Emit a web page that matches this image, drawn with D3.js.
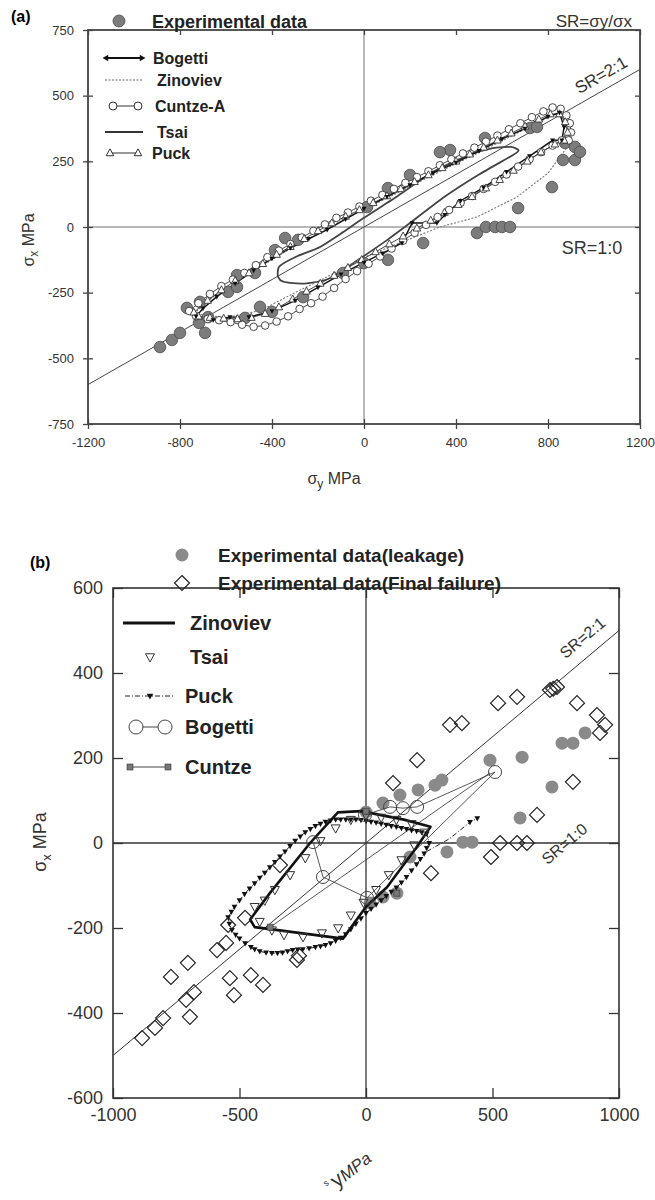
<!DOCTYPE html>
<html><head><meta charset="utf-8">
<script src="https://cdn.jsdelivr.net/npm/d3@7"></script>
<style>body{margin:0;background:#fff} svg{display:block} text{font-family:"Liberation Sans",Arial,sans-serif}</style>
</head><body><svg id="c" width="655" height="1200"></svg>
<script>
// ---------- DATA: panel (a)  [sigma_y, sigma_x] ----------
const xTicksA = [-1200,-800,-400,0,400,800,1200];
const yTicksA = [-750,-500,-250,0,250,500,750];
const expA = [[-887,-457],[-835,-430],[-800,-403],[-770,-308],[-713,-285],[-717,-365],[-691,-403],[-678,-343],[-591,-247],[-552,-228],[-552,-183],[-474,-175],[-517,-346],[-452,-304],[-400,-323],[-387,-88],[-343,-42],[-287,-49],[-265,-267],[-91,-175],[0,-137],[104,-125],[257,-61],[491,-23],[530,0],[570,0],[600,0],[635,0],[670,72],[817,152],[865,255],[917,255],[874,320],[917,305],[939,286],[722,377],[752,381],[526,339],[374,293],[330,285],[200,198],[104,148],[13,76]];
const cuntzeA = [[-760,-320],[-720,-290],[-670,-255],[-620,-225],[-570,-200],[-520,-175],[-470,-145],[-420,-115],[-370,-90],[-320,-65],[-270,-40],[-220,-15],[-170,10],[-120,35],[-70,55],[-20,78],[30,100],[80,122],[130,145],[180,168],[230,190],[280,212],[330,235],[380,258],[430,280],[480,302],[530,325],[580,348],[630,372],[680,395],[730,418],[780,440],[820,455],[855,450],[880,425],[895,395],[900,360],[890,330],[860,330],[820,310],[770,285],[720,258],[670,230],[620,200],[570,172],[520,145],[470,118],[420,92],[370,65],[320,38],[270,8],[220,-22],[170,-52],[120,-82],[70,-112],[20,-140],[-30,-168],[-80,-198],[-130,-232],[-180,-265],[-230,-290],[-280,-312],[-330,-340],[-380,-360],[-430,-375],[-480,-380],[-530,-372],[-580,-362],[-630,-355],[-680,-350],[-730,-340]];
const puckA = [[-740,-325],[-680,-280],[-620,-240],[-560,-205],[-500,-175],[-440,-140],[-380,-105],[-320,-75],[-260,-45],[-200,-15],[-140,15],[-80,40],[-20,65],[40,92],[100,118],[160,145],[220,172],[280,198],[340,225],[400,250],[460,277],[520,303],[580,330],[640,357],[700,383],[760,410],[810,430],[850,430],[875,400],[885,360],[870,330],[830,315],[770,285],[710,250],[650,215],[590,180],[530,148],[470,115],[410,85],[350,55],[290,25],[230,-5],[170,-35],[110,-65],[50,-95],[-10,-125],[-70,-155],[-130,-185],[-190,-215],[-250,-245],[-310,-275],[-370,-305],[-430,-330],[-490,-345],[-550,-350],[-610,-348],[-670,-345],[-720,-340]];
const bogettiA = [[-730,-340],[-700,-310],[-640,-265],[-560,-215],[-480,-165],[-400,-120],[-320,-80],[-240,-45],[-160,-10],[-80,30],[0,70],[100,115],[200,160],[300,205],[400,245],[500,290],[600,335],[700,375],[800,420],[850,435],[870,380],[860,330],[820,330],[720,270],[620,210],[520,150],[420,100],[352,46],[317,15],[209,15],[165,-61],[80,-100],[0,-135],[-100,-180],[-200,-230],[-300,-280],[-400,-320],[-500,-343],[-583,-343],[-656,-354]];
const zinovievA = [[-740,-330],[-650,-262],[-550,-208],[-450,-152],[-350,-98],[-250,-48],[-150,0],[-50,45],[50,88],[150,132],[250,176],[350,220],[450,262],[550,306],[650,350],[750,395],[820,425],[865,418],[890,370],[880,300],[800,205],[665,114],[491,38],[330,0],[135,-68],[0,-115],[-150,-185],[-300,-250],[-450,-318],[-600,-345]];
const tsaiA = [[-375,-185],[-368,-150],[-300,-115],[-191,-76],[-100,-25],[0,35],[150,120],[300,210],[450,272],[560,300],[640,305],[672,292],[650,275],[500,200],[350,115],[200,15],[100,-50],[0,-110],[-148,-195],[-250,-215],[-322,-213],[-360,-205]];
const srLineA = [[-1200,-600],[1200,600]];

// ---------- DATA: panel (b) ----------
const xTicksB = [-1000,-500,0,500,1000];
const yTicksB = [-600,-400,-200,0,200,400,600];
const leakB = [[490,195],[617,202],[775,235],[818,235],[866,259],[735,132],[609,59],[300,148],[273,136],[206,125],[134,113],[67,94],[0,73],[383,2],[419,2],[320,-21],[174,-33],[122,-118],[67,-127],[16,-141]];
const failB = [[107,141],[202,195],[332,278],[379,282],[522,329],[597,344],[727,360],[740,363],[755,367],[834,329],[913,301],[945,278],[925,259],[818,144],[676,66],[530,0],[597,0],[636,0],[494,-33],[257,-71],[-340,-52],[-885,-459],[-834,-435],[-802,-412],[-771,-315],[-704,-282],[-711,-369],[-696,-409],[-680,-351],[-589,-252],[-553,-235],[-545,-193],[-478,-176],[-538,-318],[-522,-358],[-455,-311],[-407,-334],[-273,-275],[-265,-265]];
const zinovievB = [[-111,72],[-20,75],[150,55],[255,38],[200,-10],[83,-104],[0,-150],[-91,-225],[-440,-198],[-458,-180],[-380,-118],[-221,0]];
const tsaiB = [[-440,-150],[-420,-185],[-372,-205],[-324,-216],[-249,-221],[-174,-212],[-110,-200],[-60,-170],[-10,-140],[40,-110],[90,-75],[140,-40],[190,-5],[230,25],[180,45],[120,55],[60,60],[0,65],[-60,55],[-120,35],[-180,5],[-240,-35],[-300,-75],[-360,-110],[-400,-135]];
const puckB = [[-545,-175],[-532,-162],[-520,-150],[-500,-135],[-480,-120],[-460,-107],[-440,-95],[-420,-82],[-400,-70],[-380,-57],[-360,-45],[-340,-32],[-320,-20],[-300,-7],[-280,5],[-260,15],[-240,25],[-220,33],[-200,40],[-180,45],[-160,50],[-140,53],[-120,55],[-100,55],[-80,55],[-60,55],[-40,55],[-20,54],[0,52],[20,50],[40,48],[60,45],[80,43],[100,40],[120,38],[140,35],[160,33],[180,30],[200,28],[220,25],[240,22],[250,0],[240,-12],[230,-25],[215,-38],[200,-50],[180,-65],[160,-80],[140,-93],[120,-105],[100,-115],[80,-125],[60,-135],[40,-145],[20,-155],[0,-165],[-20,-178],[-40,-190],[-60,-203],[-80,-215],[-100,-223],[-120,-230],[-140,-236],[-160,-240],[-180,-243],[-200,-245],[-225,-248],[-250,-250],[-270,-251],[-290,-252],[-310,-255],[-330,-258],[-350,-259],[-372,-259],[-395,-258],[-420,-255],[-440,-250],[-455,-245],[-478,-236],[-500,-225],[-515,-216],[-530,-205],[-540,-190]];
const puckSpurB = [[240,-20],[330,10],[411,49],[440,58]];
const bogettiB = [[-209,2],[-170,-80],[4,-129],[510,167],[202,85],[146,82],[95,85],[-4,66]];
const cuntzeB = [[-379,-198],[490,165]];
const cuntzeMarkB = [[0,75],[122,-118],[-379,-198]];
const srLineB = [[-1000,-500],[1000,500]];

// ---------- DRAW ----------
const svg = d3.select('#c');
const xa = d3.scaleLinear().domain([-1200,1200]).range([88,640]);
const ya = d3.scaleLinear().domain([-750,750]).range([424,30]);
const xb = d3.scaleLinear().domain([-1000,1000]).range([113,619]);
const yb = d3.scaleLinear().domain([-600,600]).range([1098,588]);

function triPath(s, down){ const k = down?-1:1; return `M0,${-s*k}L${s*0.9},${s*0.65*k}L${-s*0.9},${s*0.65*k}Z`; }
function diaPath(s){ return `M0,${-s}L${s},0L0,${s}L${-s},0Z`; }

function axes(x, y, xt, yt, fs, inner, crossBottomLeft, col, sw, pad){
  const g = svg.append('g');
  const [x0,x1] = x.range(), [y1,y0] = [y.range()[0], y.range()[1]];
  const fmt = d => String(d);
  const b = g.append('g').attr('transform',`translate(0,${y1})`).call(d3.axisBottom(x).tickValues(xt).tickSize(crossBottomLeft?5:-inner).tickPadding(pad).tickFormat(fmt));
  const t = g.append('g').attr('transform',`translate(0,${y0})`).call(d3.axisTop(x).tickValues(xt).tickSize(-inner).tickFormat(''));
  const l = g.append('g').attr('transform',`translate(${x0},0)`).call(d3.axisLeft(y).tickValues(yt).tickSize(crossBottomLeft?5:-inner).tickPadding(pad).tickFormat(fmt));
  const r = g.append('g').attr('transform',`translate(${x1},0)`).call(d3.axisRight(y).tickValues(yt).tickSize(-inner).tickFormat(''));
  if(crossBottomLeft){ b.selectAll('.tick line').attr('y1',-5); l.selectAll('.tick line').attr('x1',5); }
  [b,t,l,r].forEach(a=>{ a.select('.domain').remove(); a.selectAll('.tick line').attr('stroke',col).attr('stroke-width',1.3);
     a.selectAll('text').attr('font-size',fs).attr('fill','#333').attr('font-family','"Liberation Sans",Arial,sans-serif'); });
  g.append('rect').attr('x',x0).attr('y',y0).attr('width',x1-x0).attr('height',y1-y0).attr('fill','none').attr('stroke',col).attr('stroke-width',sw);
  return g;
}

// ===== Panel (a) =====
const gA = svg.append('g');
const la = d3.line().x(d=>xa(d[0])).y(d=>ya(d[1]));
gA.append('line').attr('x1',xa(0)).attr('x2',xa(0)).attr('y1',ya(-750)).attr('y2',ya(750)).attr('stroke','#a0a0a0').attr('stroke-width',1.5);
gA.append('line').attr('x1',xa(-1200)).attr('x2',xa(1200)).attr('y1',ya(0)).attr('y2',ya(0)).attr('stroke','#a0a0a0').attr('stroke-width',1.5);
gA.append('path').attr('d',la(srLineA)).attr('stroke','#444').attr('stroke-width',1).attr('fill','none');
axes(xa, ya, xTicksA, yTicksA, 13, 5, true, '#444', 1.8, 9);

gA.append('path').attr('d',la.curve(d3.curveCardinalClosed.tension(0.4))(tsaiA)).attr('fill','none').attr('stroke','#444').attr('stroke-width',1.8);
la.curve(d3.curveLinearClosed);
gA.append('path').attr('d',la(zinovievA)).attr('fill','none').attr('stroke','#777').attr('stroke-width',1.1).attr('stroke-dasharray','2,1.6');
gA.append('path').attr('d',la(puckA)).attr('fill','none').attr('stroke','#333').attr('stroke-width',0.9);
gA.append('path').attr('d',la(bogettiA)).attr('fill','none').attr('stroke','#111').attr('stroke-width',1.4);
gA.append('path').attr('d',la(cuntzeA)).attr('fill','none').attr('stroke','#333').attr('stroke-width',0.9);
gA.selectAll('.ea').data(expA).join('circle').attr('cx',d=>xa(d[0])).attr('cy',d=>ya(d[1])).attr('r',5.8).attr('fill','#7c7c7c').attr('stroke','#4a4a4a').attr('stroke-width',0.8);
gA.selectAll('.ca').data(cuntzeA).join('circle').attr('cx',d=>xa(d[0])).attr('cy',d=>ya(d[1])).attr('r',3.8).attr('fill','#fff').attr('stroke','#333').attr('stroke-width',0.9);
gA.selectAll('.pa').data(puckA).join('path').attr('transform',d=>`translate(${xa(d[0])},${ya(d[1])})`).attr('d',triPath(4.2,false)).attr('fill','#fff').attr('stroke','#333').attr('stroke-width',0.9);
gA.selectAll('.ba').data(bogettiA).join('path').attr('transform',d=>`translate(${xa(d[0])},${ya(d[1])})`).attr('d',triPath(2.8,true)).attr('fill','#111');

// texts (a)
svg.append('text').attr('x',11).attr('y',22).attr('font-family','"Liberation Serif","Times New Roman",serif').attr('font-weight','bold').attr('font-size',16).text('(a)');
svg.append('circle').attr('cx',119).attr('cy',21).attr('r',6).attr('fill','#7c7c7c').attr('stroke','#4a4a4a').attr('stroke-width',0.8);
svg.append('text').attr('x',152).attr('y',28).attr('font-weight','bold').attr('font-size',18).attr('fill','#222').text('Experimental data');
svg.append('text').attr('x',632).attr('y',27).attr('text-anchor','end').attr('font-size',17).attr('fill','#333').text('SR=σy/σx');
svg.append('text').attr('transform',`translate(604,80) rotate(-30)`).attr('text-anchor','middle').attr('font-size',17).attr('fill','#333').text('SR=2:1');
svg.append('text').attr('x',592).attr('y',254).attr('text-anchor','middle').attr('font-size',18).attr('fill','#333').text('SR=1:0');
const yla = svg.append('text').attr('transform','translate(34,240) rotate(-90)').attr('text-anchor','middle').attr('font-size',16).attr('fill','#333');
yla.append('tspan').text('σ'); yla.append('tspan').attr('font-size',12).attr('dy',4).text('x'); yla.append('tspan').attr('dy',-4).text(' MPa');
const xla = svg.append('text').attr('x',334).attr('y',484).attr('text-anchor','middle').attr('font-size',16).attr('fill','#333');
xla.append('tspan').text('σ'); xla.append('tspan').attr('font-size',12).attr('dy',4).text('y'); xla.append('tspan').attr('dy',-4).text(' MPa');

// legend (a)
const legA = svg.append('g');
const lyA = [58,80,106,132,153];
const namesA = ['Bogetti','Zinoviev','Cuntze-A','Tsai','Puck'];
const txA = [153,157,155,157,152];
legA.append('line').attr('x1',106).attr('x2',141).attr('y1',lyA[0]).attr('y2',lyA[0]).attr('stroke','#111').attr('stroke-width',2.2);
legA.append('path').attr('transform',`translate(106,${lyA[0]}) rotate(90)`).attr('d',triPath(3.5,true)).attr('fill','#111');
legA.append('path').attr('transform',`translate(142,${lyA[0]}) rotate(-90)`).attr('d',triPath(3.5,true)).attr('fill','#111');
legA.append('line').attr('x1',105).attr('x2',143).attr('y1',lyA[1]).attr('y2',lyA[1]).attr('stroke','#666').attr('stroke-width',1.2).attr('stroke-dasharray','2,1.5');
legA.append('line').attr('x1',113).attr('x2',138).attr('y1',lyA[2]).attr('y2',lyA[2]).attr('stroke','#333').attr('stroke-width',1);
[113,138].forEach(x=>legA.append('circle').attr('cx',x).attr('cy',lyA[2]).attr('r',4).attr('fill','#fff').attr('stroke','#333'));
legA.append('line').attr('x1',105).attr('x2',143).attr('y1',lyA[3]).attr('y2',lyA[3]).attr('stroke','#333').attr('stroke-width',2);
legA.append('line').attr('x1',110).attr('x2',138).attr('y1',lyA[4]).attr('y2',lyA[4]).attr('stroke','#333').attr('stroke-width',1);
[110,138].forEach(x=>legA.append('path').attr('transform',`translate(${x},${lyA[4]})`).attr('d',triPath(4.2,false)).attr('fill','#fff').attr('stroke','#333'));
namesA.forEach((n,i)=>legA.append('text').attr('x',txA[i]).attr('y',lyA[i]+6).attr('font-weight','bold').attr('font-size',16).attr('fill','#222').text(n));

// ===== Panel (b) =====
const gB = svg.append('g');
const lb = d3.line().x(d=>xb(d[0])).y(d=>yb(d[1]));
gB.append('line').attr('x1',xb(0)).attr('x2',xb(0)).attr('y1',yb(-600)).attr('y2',yb(600)).attr('stroke','#333').attr('stroke-width',1.3);
gB.append('line').attr('x1',xb(-1000)).attr('x2',xb(1000)).attr('y1',yb(0)).attr('y2',yb(0)).attr('stroke','#333').attr('stroke-width',1.3);
gB.append('path').attr('d',lb(srLineB)).attr('stroke','#333').attr('stroke-width',1).attr('fill','none');
axes(xb, yb, xTicksB, yTicksB, 18, 10, false, '#333', 1.6, 10);

gB.selectAll('.lk').data(leakB).join('circle').attr('cx',d=>xb(d[0])).attr('cy',d=>yb(d[1])).attr('r',6.5).attr('fill','#8a8a8a');
gB.append('path').attr('d',lb(cuntzeB)).attr('fill','none').attr('stroke','#444').attr('stroke-width',0.9);
gB.append('path').attr('d',lb(bogettiB)).attr('fill','none').attr('stroke','#444').attr('stroke-width',0.9);
gB.append('path').attr('d',lb.curve(d3.curveLinearClosed)(puckB)).attr('fill','none').attr('stroke','#222').attr('stroke-width',1).attr('stroke-dasharray','5,2,1,2');
gB.append('path').attr('d',lb.curve(d3.curveLinear)(puckSpurB)).attr('fill','none').attr('stroke','#222').attr('stroke-width',1).attr('stroke-dasharray','5,2,1,2');
gB.append('path').attr('d',lb.curve(d3.curveLinearClosed)(zinovievB)).attr('fill','none').attr('stroke','#111').attr('stroke-width',2.6).attr('stroke-linejoin','round');
gB.selectAll('.pk').data(puckB.concat(puckSpurB.slice(2))).join('path').attr('transform',d=>`translate(${xb(d[0])},${yb(d[1])})`).attr('d',triPath(3.2,true)).attr('fill','#111');
gB.selectAll('.ts').data(tsaiB).join('path').attr('transform',d=>`translate(${xb(d[0])},${yb(d[1])})`).attr('d',triPath(5,true)).attr('fill','none').attr('stroke','#333').attr('stroke-width',1);
gB.selectAll('.bg').data(bogettiB).join('circle').attr('cx',d=>xb(d[0])).attr('cy',d=>yb(d[1])).attr('r',6.5).attr('fill','none').attr('stroke','#444').attr('stroke-width',1);
gB.selectAll('.cm').data(cuntzeMarkB).join('rect').attr('x',d=>xb(d[0])-3).attr('y',d=>yb(d[1])-3).attr('width',6).attr('height',6).attr('fill','#777').attr('stroke','#333').attr('stroke-width',0.6);
gB.selectAll('.fl').data(failB).join('path').attr('transform',d=>`translate(${xb(d[0])},${yb(d[1])})`).attr('d',diaPath(7.5)).attr('fill','none').attr('stroke','#222').attr('stroke-width',1.2);

// texts (b)
svg.append('text').attr('x',30).attr('y',568).attr('font-family','"Liberation Serif","Times New Roman",serif').attr('font-weight','bold').attr('font-size',16).text('(b)');
svg.append('circle').attr('cx',182).attr('cy',555).attr('r',6.5).attr('fill','#8a8a8a');
svg.append('path').attr('transform','translate(182,583)').attr('d',diaPath(7.5)).attr('fill','none').attr('stroke','#222').attr('stroke-width',1.2);
svg.append('text').attr('x',218).attr('y',562).attr('font-weight','bold').attr('font-size',19).attr('fill','#222').text('Experimental data(leakage)');
svg.append('text').attr('x',218).attr('y',590).attr('font-weight','bold').attr('font-size',19).attr('fill','#222').text('Experimental data(Final failure)');
svg.append('text').attr('transform','translate(586,642) rotate(-40)').attr('text-anchor','middle').attr('font-size',16).attr('fill','#333').text('SR=2:1');
svg.append('text').attr('transform','translate(568,848) rotate(-40)').attr('text-anchor','middle').attr('font-size',16).attr('fill','#333').text('SR=1:0');
const ylb = svg.append('text').attr('transform','translate(46,842) rotate(-90)').attr('text-anchor','middle').attr('font-size',18).attr('fill','#333');
ylb.append('tspan').text('σ'); ylb.append('tspan').attr('font-size',13).attr('dy',5).text('x'); ylb.append('tspan').attr('dy',-5).text(' MPa');
const xlb = svg.append('text').attr('transform','translate(331,1193) rotate(-38)').attr('font-size',17).attr('fill','#333');
xlb.append('tspan').attr('font-size',9).attr('dy',-8).text('s'); xlb.append('tspan').attr('font-size',21).attr('dy',8).attr('dx',3).text('y'); xlb.append('tspan').attr('font-style','italic').text('MPa');

// legend (b)
const legB = svg.append('g');
legB.append('line').attr('x1',123).attr('x2',175).attr('y1',623).attr('y2',623).attr('stroke','#111').attr('stroke-width',3);
legB.append('path').attr('transform','translate(150,657)').attr('d',triPath(5,true)).attr('fill','none').attr('stroke','#333').attr('stroke-width',1);
legB.append('line').attr('x1',125).attr('x2',175).attr('y1',696).attr('y2',696).attr('stroke','#222').attr('stroke-width',1).attr('stroke-dasharray','5,2,1,2');
legB.append('path').attr('transform','translate(150,696)').attr('d',triPath(3.6,true)).attr('fill','#111');
legB.append('line').attr('x1',136).attr('x2',165).attr('y1',727).attr('y2',727).attr('stroke','#444').attr('stroke-width',1);
[136,165].forEach(x=>legB.append('circle').attr('cx',x).attr('cy',727).attr('r',7).attr('fill','#fff').attr('stroke','#444').attr('stroke-width',1));
legB.append('line').attr('x1',130).attr('x2',168).attr('y1',767).attr('y2',767).attr('stroke','#444').attr('stroke-width',1);
[130,168].forEach(x=>legB.append('rect').attr('x',x-3).attr('y',764).attr('width',6).attr('height',6).attr('fill','#777').attr('stroke','#333').attr('stroke-width',0.6));
[['Zinoviev',190,623],['Tsai',190,657],['Puck',185,696],['Bogetti',185,727],['Cuntze',185,767]].forEach(([n,x,y])=>
  legB.append('text').attr('x',x).attr('y',y+7).attr('font-weight','bold').attr('font-size',20).attr('fill','#222').text(n));
</script></body></html>
